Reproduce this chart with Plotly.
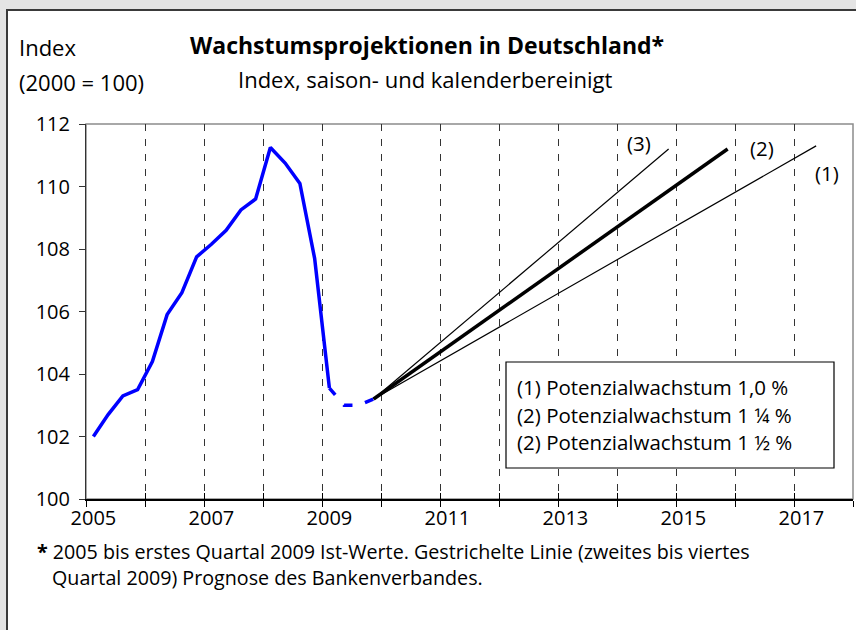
import plotly.graph_objects as go

W, H = 856, 630

# quarterly data, x = year + mid-quarter
actual_x = [2005.125, 2005.375, 2005.625, 2005.875,
            2006.125, 2006.375, 2006.625, 2006.875,
            2007.125, 2007.375, 2007.625, 2007.875,
            2008.125, 2008.375, 2008.625, 2008.875,
            2009.125]
actual_y = [102.0, 102.7, 103.3, 103.5,
            104.4, 105.9, 106.6, 107.75,
            108.15, 108.6, 109.25, 109.6,
            111.25, 110.75, 110.1, 107.7,
            103.55]

forecast_x = [2009.125, 2009.375, 2009.625, 2009.875]
forecast_y = [103.55, 103.0, 103.0, 103.2]

# projections (start / end points)
proj1_x = [2009.875, 2017.375]
proj1_y = [103.2, 111.3]
proj2_x = [2009.875, 2015.875]
proj2_y = [103.2, 111.2]
proj3_x = [2009.875, 2014.875]
proj3_y = [103.2, 111.2]

year_bounds = list(range(2005, 2019))
label_years = [2005, 2007, 2009, 2011, 2013, 2015, 2017]
y_ticks = [100, 102, 104, 106, 108, 110, 112]

legend_lines = [
    "(1) Potenzialwachstum 1,0 %",
    "(2) Potenzialwachstum 1 ¼ %",
    "(2) Potenzialwachstum 1 ½ %",
]
series_labels = ["(3)", "(2)", "(1)"]
series_label_x = [2014.37, 2016.46, 2017.56]
series_label_y = [111.39, 111.23, 110.43]

FONT = "Open Sans"


def px(x):
    return x / W


def py(y):
    return 1 - y / H


def text(x, y, t, size, xanchor="center", bold=False):
    fig.add_annotation(x=px(x), y=py(y), xref="paper", yref="paper",
                       text=f"<b>{t}</b>" if bold else t, showarrow=False,
                       xanchor=xanchor, yanchor="middle",
                       font=dict(size=size, color="black", family=FONT))


fig = go.Figure()

fig.add_trace(go.Scatter(x=actual_x, y=actual_y, mode="lines",
                         line=dict(color="#0000ff", width=3.5), showlegend=False))
fig.add_trace(go.Scatter(x=forecast_x, y=forecast_y, mode="lines",
                         line=dict(color="#0000ff", width=3.5, dash="9px,13px"),
                         showlegend=False))
fig.add_trace(go.Scatter(x=proj1_x, y=proj1_y, mode="lines",
                         line=dict(color="black", width=1.2), showlegend=False))
fig.add_trace(go.Scatter(x=proj3_x, y=proj3_y, mode="lines",
                         line=dict(color="black", width=1.2), showlegend=False))
fig.add_trace(go.Scatter(x=proj2_x, y=proj2_y, mode="lines",
                         line=dict(color="black", width=3.5), showlegend=False))
# helper axes: inward half of the crossing x ticks, and the y tick labels
fig.add_trace(go.Scatter(x=[2005], y=[100], xaxis="x2", mode="markers",
                         marker=dict(opacity=0), showlegend=False, hoverinfo="skip"))
fig.add_trace(go.Scatter(x=[2005], y=[100], yaxis="y2", mode="markers",
                         marker=dict(opacity=0), showlegend=False, hoverinfo="skip"))

# white panel + plot frame
fig.add_shape(type="rect", xref="paper", yref="paper",
              x0=px(7), x1=1.05, y0=-0.1, y1=py(10),
              fillcolor="white", line=dict(color="#3a3a3a", width=2), layer="below")
fig.add_shape(type="rect", xref="x domain", yref="y domain",
              x0=0, x1=1, y0=0, y1=1,
              line=dict(color="#8c8c8c", width=1.5), layer="below")

# legend box
fig.add_shape(type="rect", xref="paper", yref="paper",
              x0=px(506), x1=px(834), y0=py(468), y1=py(362),
              fillcolor="white", line=dict(color="black", width=1.2), layer="above")
for i, t in enumerate(legend_lines):
    text(515, 387 + i * 27.5, t, 20.5, xanchor="left")

# series labels
for lbl, x, y in zip(series_labels, series_label_x, series_label_y):
    fig.add_annotation(x=x, y=y, text=lbl, showarrow=False,
                       xanchor="center", yanchor="middle",
                       font=dict(size=20.5, color="black", family=FONT))

# titles
text(427, 45, "Wachstumsprojektionen in Deutschland*", 23, bold=True)
text(425, 79, "Index, saison- und kalenderbereinigt", 22)
text(17, 47, "Index", 22, xanchor="left")
text(17, 82, "(2000 = 100)", 22, xanchor="left")

# footnote
text(35, 551, "<b>*</b> 2005 bis erstes Quartal 2009 Ist-Werte. Gestrichelte Linie (zweites bis viertes",
     19.7, xanchor="left")
text(50, 577, "Quartal 2009) Prognose des Bankenverbandes.", 19.7, xanchor="left")

xdom = [px(86), px(853)]
ydom = [py(499), py(124)]
fig.update_layout(
    width=W, height=H,
    margin=dict(l=0, r=0, t=0, b=0, autoexpand=False),
    paper_bgcolor="#e4e4e4",
    plot_bgcolor="rgba(0,0,0,0)",
    font=dict(family=FONT, color="black", size=20),
    xaxis=dict(
        domain=xdom, range=[2005, 2018], automargin=False,
        tickmode="array",
        tickvals=[y + 0.125 for y in label_years],
        ticktext=[str(y) for y in label_years],
        ticks="", showgrid=False, zeroline=False,
        showline=True, linecolor="black", linewidth=2,
        tickfont=dict(size=20),
        minor=dict(tickmode="array", tickvals=year_bounds, ticks="outside",
                   ticklen=6, tickcolor="black", tickwidth=1,
                   showgrid=True, gridcolor="#333333", gridwidth=1, griddash="7px,8px"),
    ),
    xaxis2=dict(
        domain=xdom, range=[2005, 2018], overlaying="x", anchor="y", automargin=False,
        tickmode="array", tickvals=year_bounds, ticks="inside", ticklen=6,
        tickcolor="black", tickwidth=1, showticklabels=False,
        showgrid=False, zeroline=False,
    ),
    yaxis=dict(
        domain=ydom, range=[100, 112], automargin=False,
        tickmode="array", tickvals=y_ticks,
        ticks="outside", ticklen=6, tickcolor="#333333",
        showticklabels=False,
        showgrid=False, zeroline=False,
        showline=True, linecolor="#333333", linewidth=1,
    ),
    yaxis2=dict(
        domain=ydom, range=[100, 112], automargin=False,
        overlaying="y", anchor="free", side="left", position=px(70),
        tickmode="array", tickvals=y_ticks, ticks="",
        showgrid=False, zeroline=False, showline=False,
        tickfont=dict(size=20),
    ),
    hovermode=False,
)

# the page's default body margin would push the figure 8px in
fig.write_html("out.html", config={"displayModeBar": False},
               post_script="document.body.style.margin = '0';")
